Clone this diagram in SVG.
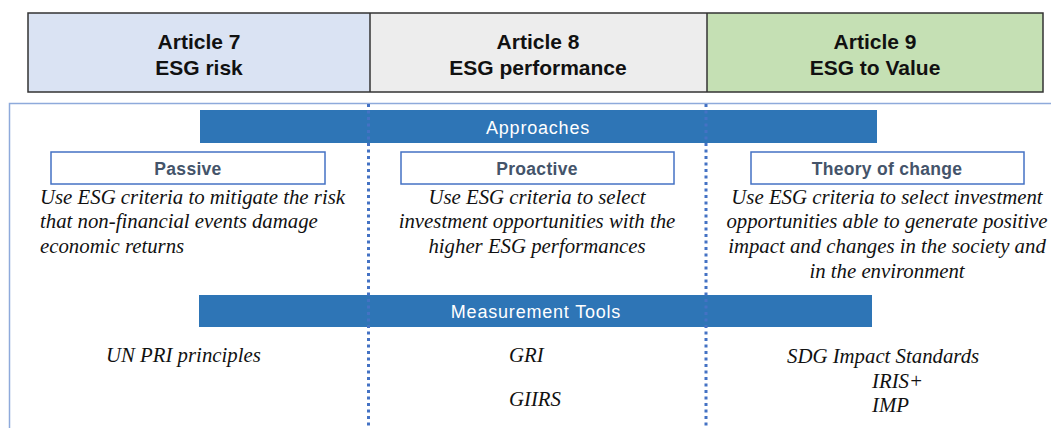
<svg xmlns="http://www.w3.org/2000/svg" width="1051" height="428" viewBox="0 0 1051 428">
<style>
.hdr{font-family:"Liberation Sans",Arial,sans-serif;font-weight:bold;font-size:21px;fill:#111;text-anchor:middle}
.bar{fill:#2e75b6}
.bart{font-family:"Liberation Sans",Arial,sans-serif;font-size:18px;letter-spacing:0.8px;fill:#fff;text-anchor:middle}
.sub{fill:#fff;stroke:#4472c4;stroke-width:1.5}
.subt{font-family:"Liberation Sans",Arial,sans-serif;font-weight:bold;font-size:17.5px;letter-spacing:0.3px;fill:#44546a;text-anchor:middle}
.body{font-family:"Liberation Serif","Times New Roman",serif;font-style:italic;font-size:20.8px;fill:#111}
.c{text-anchor:middle}
.dot{stroke:#4472c4;stroke-width:3;stroke-dasharray:3 3.5;fill:none}
</style>
<rect width="1051" height="428" fill="#fff"/>
<g id="frame">
<path d="M9.5 428 V103.5 H1051" fill="none" stroke="#8eaadb" stroke-width="1.5"/>
</g>
<g id="header">
<rect x="28" y="13" width="342" height="79" fill="#dae3f3"/>
<rect x="370" y="13" width="337" height="79" fill="#ededed"/>
<rect x="707" y="13" width="336" height="79" fill="#c5e0b4"/>
<rect x="28" y="13" width="1015" height="79" fill="none" stroke="#333" stroke-width="1.5"/>
<line x1="370" y1="13" x2="370" y2="92" stroke="#333" stroke-width="1.5"/>
<line x1="707" y1="13" x2="707" y2="92" stroke="#333" stroke-width="1.5"/>
</g>
<g id="article7"><text class="hdr" x="199" y="49">Article 7</text><text class="hdr" x="199" y="75">ESG risk</text></g>
<g id="article8"><text class="hdr" x="538" y="49">Article 8</text><text class="hdr" x="538" y="75">ESG performance</text></g>
<g id="article9"><text class="hdr" x="875" y="49">Article 9</text><text class="hdr" x="875" y="75">ESG to Value</text></g>
<g id="approaches"><rect class="bar" x="200" y="110" width="677" height="33"/><text class="bart" x="538" y="134">Approaches</text></g>
<g id="measurement"><rect class="bar" x="199" y="295" width="673" height="32"/><text class="bart" x="536" y="318">Measurement Tools</text></g>
<g id="dividers">
<line class="dot" x1="368.5" y1="104" x2="368.5" y2="428"/>
<line class="dot" x1="706" y1="104" x2="706" y2="428"/>
</g>
<g id="passive">
<rect class="sub" x="51" y="152" width="274" height="32"/><text class="subt" x="188" y="175">Passive</text>
<text class="body" x="40" y="204">Use ESG criteria to mitigate the risk</text>
<text class="body" x="40" y="228">that non-financial events damage</text>
<text class="body" x="40" y="253">economic returns</text>
</g>
<g id="proactive">
<rect class="sub" x="401" y="152" width="273" height="32"/><text class="subt" x="537" y="175">Proactive</text>
<text class="body c" x="537" y="204">Use ESG criteria to select</text>
<text class="body c" x="537" y="228">investment opportunities with the</text>
<text class="body c" x="537" y="253">higher ESG performances</text>
</g>
<g id="theory">
<rect class="sub" x="751" y="152" width="273" height="32"/><text class="subt" x="887" y="175">Theory of change</text>
<text class="body c" x="887" y="204">Use ESG criteria to select investment</text>
<text class="body c" x="887" y="228">opportunities able to generate positive</text>
<text class="body c" x="887" y="253">impact and changes in the society and</text>
<text class="body c" x="887" y="278">in the environment</text>
</g>
<g id="tools7"><text class="body" x="106" y="362">UN PRI principles</text></g>
<g id="tools8"><text class="body" x="509" y="362">GRI</text><text class="body" x="509" y="406">GIIRS</text></g>
<g id="tools9"><text class="body" x="787" y="363">SDG Impact Standards</text><text class="body" x="872" y="388">IRIS+</text><text class="body" x="872" y="412">IMP</text></g>
</svg>
